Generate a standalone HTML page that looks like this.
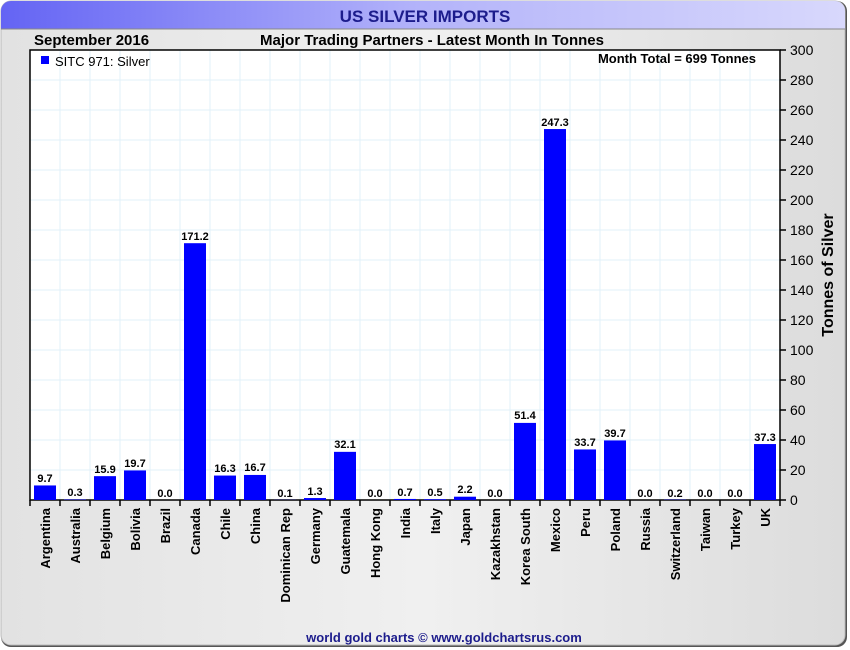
<!DOCTYPE html>
<html><head><meta charset="utf-8"><style>
body{margin:0;background:#fff;}
svg{display:block;font-family:"Liberation Sans",sans-serif;}
</style></head><body>
<svg width="850" height="650" viewBox="0 0 850 650">
<defs>
<linearGradient id="tb" x1="0" x2="1" y1="0" y2="0"><stop offset="0" stop-color="#6464f4"/><stop offset="0.5" stop-color="#b4b4fa"/><stop offset="1" stop-color="#d8d8fc"/></linearGradient>
<linearGradient id="bd" x1="0" x2="1" y1="0" y2="0"><stop offset="0" stop-color="#e2e2e2"/><stop offset="0.5" stop-color="#f0f0f0"/><stop offset="1" stop-color="#dcdcdc"/></linearGradient>
</defs>
<rect x="1" y="1" width="846" height="646" rx="10" fill="#555"/>
<rect x="1" y="1" width="844" height="644" rx="10" fill="url(#bd)" stroke="#bbb"/>
<path d="M1,29 V11 A10,10 0 0 1 11,1 H835 A10,10 0 0 1 845,11 V29 Z" fill="url(#tb)"/>
<line x1="1" y1="29" x2="845" y2="29" stroke="#888"/>
<text x="425" y="22" text-anchor="middle" font-size="17" font-weight="bold" fill="#1c1c8c">US SILVER IMPORTS</text>
<text x="34" y="45" font-size="15" font-weight="bold" fill="#000">September 2016</text>
<text x="432" y="45" text-anchor="middle" font-size="15" font-weight="bold" fill="#000">Major Trading Partners - Latest Month In Tonnes</text>
<rect x="30" y="50" width="750" height="450" fill="#fff"/>
<g stroke="#e2f0f8" stroke-width="1">
<path d="M60,50V500M90,50V500M120,50V500M150,50V500M180,50V500M210,50V500M240,50V500M270,50V500M300,50V500M330,50V500M360,50V500M390,50V500M420,50V500M450,50V500M480,50V500M510,50V500M540,50V500M570,50V500M600,50V500M630,50V500M660,50V500M690,50V500M720,50V500M750,50V500"/>
<path d="M30,80H780M30,110H780M30,140H780M30,170H780M30,200H780M30,230H780M30,260H780M30,290H780M30,320H780M30,350H780M30,380H780M30,410H780M30,440H780M30,470H780"/>
</g>
<rect x="30" y="50" width="750" height="450" fill="none" stroke="#000" stroke-width="1.5"/>
<g stroke="#000" stroke-width="1.5">
<path d="M30,500v6M60,500v6M90,500v6M120,500v6M150,500v6M180,500v6M210,500v6M240,500v6M270,500v6M300,500v6M330,500v6M360,500v6M390,500v6M420,500v6M450,500v6M480,500v6M510,500v6M540,500v6M570,500v6M600,500v6M630,500v6M660,500v6M690,500v6M720,500v6M750,500v6M780,500v6"/>
<path d="M780,50h6M780,80h6M780,110h6M780,140h6M780,170h6M780,200h6M780,230h6M780,260h6M780,290h6M780,320h6M780,350h6M780,380h6M780,410h6M780,440h6M780,470h6M780,500h6"/>
</g>
<g font-size="14" fill="#000">
<text x="790" y="55">300</text><text x="790" y="85">280</text><text x="790" y="115">260</text><text x="790" y="145">240</text><text x="790" y="175">220</text><text x="790" y="205">200</text><text x="790" y="235">180</text><text x="790" y="265">160</text><text x="790" y="295">140</text><text x="790" y="325">120</text><text x="790" y="355">100</text><text x="790" y="385">80</text><text x="790" y="415">60</text><text x="790" y="445">40</text><text x="790" y="475">20</text><text x="790" y="505">0</text>
</g>
<text transform="translate(833,275) rotate(-90)" text-anchor="middle" font-size="16" font-weight="bold">Tonnes of Silver</text>
<rect x="41" y="56" width="8" height="8" fill="#0000ff"/>
<text x="55" y="66" font-size="13">SITC 971: Silver</text>
<text x="756" y="63" text-anchor="end" font-size="13" font-weight="bold">Month Total = 699 Tonnes</text>
<g fill="#0000ff">
<rect x="34" y="485.45" width="22" height="14.55"/>
<rect x="64" y="499.55" width="22" height="0.45"/>
<rect x="94" y="476.15" width="22" height="23.85"/>
<rect x="124" y="470.45" width="22" height="29.55"/>
<rect x="184" y="243.2" width="22" height="256.8"/>
<rect x="214" y="475.55" width="22" height="24.45"/>
<rect x="244" y="474.95" width="22" height="25.05"/>
<rect x="274" y="499.85" width="22" height="0.15"/>
<rect x="304" y="498.05" width="22" height="1.95"/>
<rect x="334" y="451.85" width="22" height="48.15"/>
<rect x="394" y="498.95" width="22" height="1.05"/>
<rect x="424" y="499.25" width="22" height="0.75"/>
<rect x="454" y="496.7" width="22" height="3.3"/>
<rect x="514" y="422.9" width="22" height="77.1"/>
<rect x="544" y="129.05" width="22" height="370.95"/>
<rect x="574" y="449.45" width="22" height="50.55"/>
<rect x="604" y="440.45" width="22" height="59.55"/>
<rect x="664" y="499.7" width="22" height="0.3"/>
<rect x="754" y="444.05" width="22" height="55.95"/>
</g>
<g font-size="11" font-weight="bold" text-anchor="middle" fill="#000">
<text x="45" y="482">9.7</text><text x="75" y="496">0.3</text><text x="105" y="473">15.9</text><text x="135" y="467">19.7</text><text x="165" y="497">0.0</text>
<text x="195" y="240">171.2</text><text x="225" y="472">16.3</text><text x="255" y="471">16.7</text><text x="285" y="497">0.1</text><text x="315" y="495">1.3</text>
<text x="345" y="448">32.1</text><text x="375" y="497">0.0</text><text x="405" y="496">0.7</text><text x="435" y="496">0.5</text><text x="465" y="493">2.2</text>
<text x="495" y="497">0.0</text><text x="525" y="419">51.4</text><text x="555" y="126">247.3</text><text x="585" y="446">33.7</text><text x="615" y="437">39.7</text>
<text x="645" y="497">0.0</text><text x="675" y="497">0.2</text><text x="705" y="497">0.0</text><text x="735" y="497">0.0</text><text x="765" y="441">37.3</text>
</g>
<g font-size="13" font-weight="bold" text-anchor="end" fill="#000">
<text transform="translate(50,508) rotate(-90)">Argentina</text>
<text transform="translate(80,508) rotate(-90)">Australia</text>
<text transform="translate(110,508) rotate(-90)">Belgium</text>
<text transform="translate(140,508) rotate(-90)">Bolivia</text>
<text transform="translate(170,508) rotate(-90)">Brazil</text>
<text transform="translate(200,508) rotate(-90)">Canada</text>
<text transform="translate(230,508) rotate(-90)">Chile</text>
<text transform="translate(260,508) rotate(-90)">China</text>
<text transform="translate(290,508) rotate(-90)">Dominican Rep</text>
<text transform="translate(320,508) rotate(-90)">Germany</text>
<text transform="translate(350,508) rotate(-90)">Guatemala</text>
<text transform="translate(380,508) rotate(-90)">Hong Kong</text>
<text transform="translate(410,508) rotate(-90)">India</text>
<text transform="translate(440,508) rotate(-90)">Italy</text>
<text transform="translate(470,508) rotate(-90)">Japan</text>
<text transform="translate(500,508) rotate(-90)">Kazakhstan</text>
<text transform="translate(530,508) rotate(-90)">Korea South</text>
<text transform="translate(560,508) rotate(-90)">Mexico</text>
<text transform="translate(590,508) rotate(-90)">Peru</text>
<text transform="translate(620,508) rotate(-90)">Poland</text>
<text transform="translate(650,508) rotate(-90)">Russia</text>
<text transform="translate(680,508) rotate(-90)">Switzerland</text>
<text transform="translate(710,508) rotate(-90)">Taiwan</text>
<text transform="translate(740,508) rotate(-90)">Turkey</text>
<text transform="translate(770,508) rotate(-90)">UK</text>
</g>
<text x="444" y="642" text-anchor="middle" font-size="13" font-weight="bold" fill="#1c1c8c">world gold charts © www.goldchartsrus.com</text>
</svg>
</body></html>
